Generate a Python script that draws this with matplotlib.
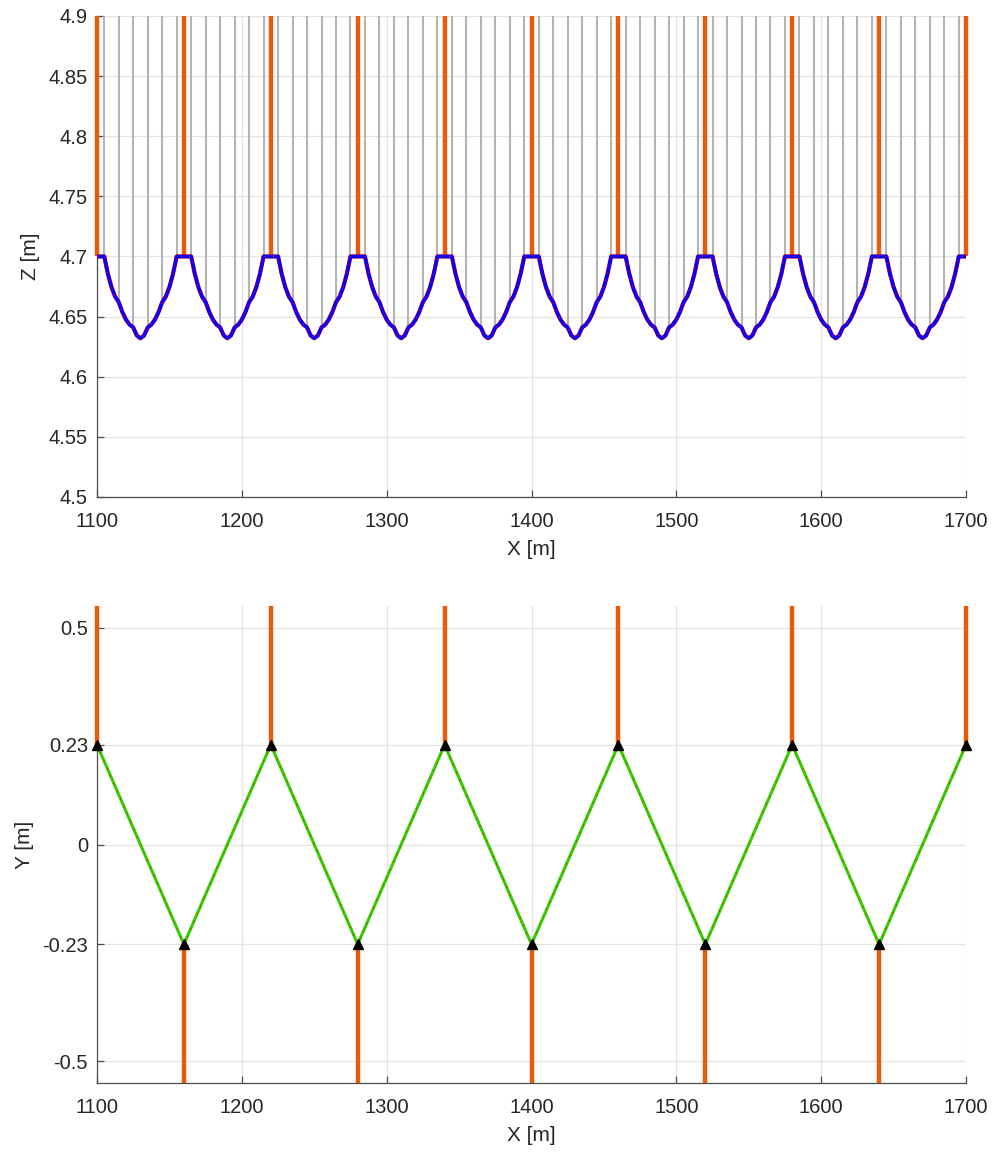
import numpy as np
import matplotlib
matplotlib.use("Agg")
import matplotlib.pyplot as plt

plt.rcParams['font.family'] = ['Liberation Sans', 'DejaVu Sans']

# support (mast) positions along the track [m]
supports = [1100, 1160, 1220, 1280, 1340, 1400, 1460, 1520, 1580, 1640, 1700]
# lateral stagger of the contact wire at each support [m]
stagger = [0.23, -0.23, 0.23, -0.23, 0.23, -0.23, 0.23, -0.23, 0.23, -0.23, 0.23]
support_height = 4.70

# dropper offsets inside one span and contact-wire height there
dropper_dx = [5, 15, 25, 35, 45, 55]
dropper_z = [4.700, 4.662, 4.641, 4.641, 4.662, 4.700]

# contact-wire height profile read over one span (offset from support)
span_dx = [0, 2.5, 5, 7.5, 10, 12.5, 15, 17.5, 20, 22.5, 25, 27.5, 30,
           32.5, 35, 37.5, 40, 42.5, 45, 47.5, 50, 52.5, 55, 57.5]
span_z = [4.700, 4.700, 4.700, 4.6856, 4.6745, 4.6666, 4.662, 4.6538, 4.6475,
          4.6433, 4.641, 4.6343, 4.632, 4.6343, 4.641, 4.6433, 4.6475, 4.6538,
          4.662, 4.6666, 4.6745, 4.6856, 4.700, 4.700]

orange = '#EA5A0C'
grey_drop = '#B4B4B4'
txt = '#262626'

# build the wire polyline from the span profile
wire_x, wire_z = [], []
for s in supports[:-1]:
    wire_x += [s + d for d in span_dx]
    wire_z += span_z
wire_x.append(supports[-1])
wire_z.append(support_height)

drop_x, drop_z = [], []
for s in supports[:-1]:
    drop_x += [s + d for d in dropper_dx]
    drop_z += dropper_z

fig = plt.figure(figsize=(9.96, 11.55), dpi=100)
ax1 = fig.add_axes([0.0974, 0.5697, 0.8725, 0.4165])
ax2 = fig.add_axes([0.0974, 0.0623, 0.8725, 0.4130])


def style(ax):
    ax.grid(True, color='#E3E3E3', linewidth=0.9)
    ax.set_axisbelow(True)
    for side in ['top', 'right']:
        ax.spines[side].set_visible(False)
    for side in ['left', 'bottom']:
        ax.spines[side].set_color('#4D4D4D')
        ax.spines[side].set_linewidth(0.9)
    ax.tick_params(direction='in', length=5, width=0.9, color='#4D4D4D',
                   labelsize=14.5, labelcolor=txt)
    ax.tick_params(axis='x', pad=11)
    ax.tick_params(axis='y', pad=6.5)
    ax.set_xlim(1100, 1700)
    ax.set_xticks(np.arange(1100, 1701, 100))
    ax.set_xlabel('X [m]', fontsize=15, color=txt, labelpad=6)


# ---- elevation view
style(ax1)
ax1.set_ylim(4.5, 4.9)
ax1.set_yticks([4.5, 4.55, 4.6, 4.65, 4.7, 4.75, 4.8, 4.85, 4.9])
ax1.set_yticklabels(['4.5', '4.55', '4.6', '4.65', '4.7', '4.75', '4.8', '4.85', '4.9'])
ax1.set_ylabel('Z [m]', fontsize=15, color=txt, labelpad=6)
ax1.vlines(drop_x, drop_z, 4.9, color=grey_drop, linewidth=1.5, zorder=2)
ax1.vlines(supports, support_height, 4.9, color=orange, linewidth=3.2, zorder=3,
           clip_on=False)
ax1.plot(wire_x, wire_z, color='red', linewidth=3.0, zorder=4)
ax1.plot(wire_x, wire_z, color='#0000FF', linewidth=2.5, zorder=5)
ax1.plot(wire_x, wire_z, color='red', linewidth=0.8, linestyle=(0, (1, 6)), zorder=6)

# ---- plan view
style(ax2)
ax2.set_ylim(-0.55, 0.55)
ax2.set_yticks([-0.5, -0.23, 0, 0.23, 0.5])
ax2.set_yticklabels(['-0.5', '-0.23', '0', '0.23', '0.5'])
ax2.set_ylabel('Y [m]', fontsize=15, color=txt, labelpad=6)
y_lo, y_hi = ax2.get_ylim()
for s, y in zip(supports, stagger):
    end = y_hi if y > 0 else y_lo
    ax2.plot([s, s], [y, end], color=orange, linewidth=3.2, zorder=3,
             clip_on=False, solid_capstyle='butt')
ax2.plot(supports, stagger, color='#33CC00', linewidth=2.2, zorder=4)
ax2.plot(supports, stagger, color='#CC3300', linewidth=0.6, linestyle=(0, (2, 8)),
         zorder=5)
ax2.plot(supports, stagger, linestyle='none', marker='^', color='black',
         markersize=7.5, zorder=6, clip_on=False)

fig.savefig('out.png', dpi=100)
